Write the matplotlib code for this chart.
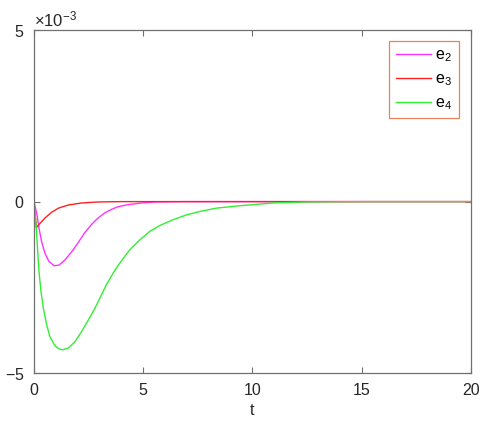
import matplotlib

matplotlib.use("Agg")
import matplotlib.pyplot as plt
from matplotlib.ticker import ScalarFormatter

plt.rcParams["font.family"] = ["Liberation Sans", "DejaVu Sans"]
plt.rcParams["mathtext.fontset"] = "custom"
plt.rcParams["mathtext.rm"] = "Liberation Sans"
plt.rcParams["mathtext.it"] = "Liberation Sans"
plt.rcParams["axes.unicode_minus"] = False

# values (y in units of 1e-3)
t_e2 = [0, 0.14, 0.23, 0.35, 0.50, 0.69, 0.93, 1.15, 1.42, 1.73, 2.03, 2.32, 2.63, 2.93,
        3.24, 3.54, 3.84, 4.30, 4.91, 5.6, 7.0, 20.0]
e2 = [0, -0.39, -0.78, -1.17, -1.50, -1.75, -1.87, -1.85, -1.70, -1.46, -1.19, -0.91, -0.67, -0.48,
      -0.33, -0.23, -0.15, -0.09, -0.04, -0.01, 0, 0]

t_e3 = [0, 0.108, 0.28, 0.50, 0.81, 1.12, 1.57, 2.18, 2.95, 4.0, 20.0]
e3 = [0, -0.76, -0.63, -0.48, -0.31, -0.19, -0.10, -0.04, -0.01, 0, 0]

t_e4 = [0, 0.108, 0.17, 0.23, 0.32, 0.43, 0.58, 0.73, 0.96, 1.13, 1.30, 1.57, 1.88, 2.18, 2.49,
        2.79, 3.05, 3.31, 3.62, 3.92, 4.38, 4.84, 5.30, 5.75, 6.36, 6.97, 7.58, 8.35, 9.43,
        10.95, 12.5, 15.0, 20.0]
e4 = [0, -0.78, -1.46, -2.04, -2.62, -3.11, -3.59, -3.94, -4.20, -4.29, -4.32, -4.27, -4.08, -3.79, -3.45,
      -3.11, -2.77, -2.43, -2.09, -1.80, -1.41, -1.12, -0.87, -0.70, -0.53, -0.39, -0.29, -0.19, -0.12,
      -0.04, -0.01, 0, 0]

fig = plt.figure(figsize=(5.02, 4.24), dpi=100)
ax = fig.add_axes([0.0677, 0.120, 0.870, 0.809])

ax.plot(t_e2, [v * 1e-3 for v in e2], color="#ff33ff", lw=1.0, label="e$_2$")
ax.plot(t_e3, [v * 1e-3 for v in e3], color="#ff2020", lw=1.0, label="e$_3$")
ax.plot(t_e4, [v * 1e-3 for v in e4], color="#33ee33", lw=1.0, label="e$_4$")

ax.set_xlim(0, 20)
ax.set_ylim(-5e-3, 5e-3)
ax.set_xticks([0, 5, 10, 15, 20])
ax.set_yticks([-5e-3, 0, 5e-3])
fmt = ScalarFormatter(useMathText=True)
fmt.set_powerlimits((-2, 2))
ax.yaxis.set_major_formatter(fmt)
ax.yaxis.get_offset_text().set_fontsize(12)

for s in ax.spines.values():
    s.set_color("#707070")
    s.set_linewidth(0.9)
ax.tick_params(direction="in", top=True, right=True, length=4, width=0.8,
               colors="#707070", labelcolor="#262626", labelsize=11.5)
ax.tick_params(axis="y", pad=7)
ax.tick_params(axis="x", pad=7)
ax.set_xlabel("t", fontsize=11.5, color="#262626", labelpad=4)

leg = ax.legend(loc="upper right", bbox_to_anchor=(0.9725, 0.968), borderaxespad=0,
                fontsize=11.5, handlelength=2.2, handletextpad=0.3, fancybox=False,
                framealpha=1, borderpad=0.4, labelspacing=0.45)
leg.get_frame().set_edgecolor("#e8825a")
leg.get_frame().set_linewidth(0.9)

fig.savefig("out.png", dpi=100)
